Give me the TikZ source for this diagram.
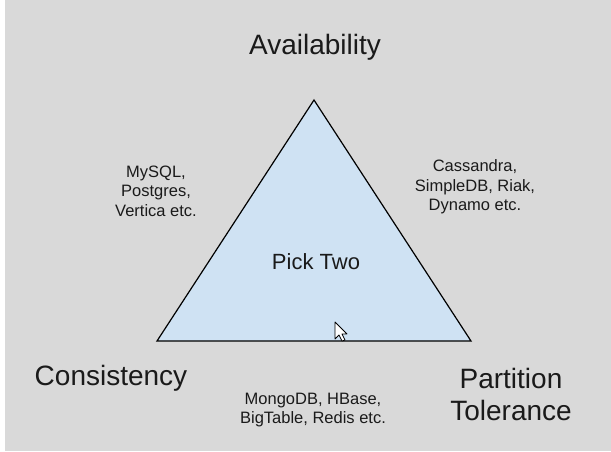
\documentclass[tikz,border=0pt]{standalone}
\usepackage{fontspec}
\setmainfont{Liberation Sans}
\usetikzlibrary{positioning}

\definecolor{bggray}{RGB}{217,217,217}
\definecolor{pickblue}{RGB}{207,226,243}
\definecolor{inkgray}{RGB}{26,26,26}

\tikzset{
  corner/.style={text=inkgray,align=center,font=\fontsize{28}{32}\selectfont},
  dblist/.style={text=inkgray,align=center,font=\fontsize{16.5}{19.5}\selectfont},
  centre/.style={text=inkgray,font=\fontsize{22}{26}\selectfont},
  edge/.style={draw=black,line width=1.2pt,line join=miter}
}

\begin{document}
\begin{tikzpicture}[x=1pt,y=-1pt]
  % page and background
  \useasboundingbox (0,0) rectangle (611,451);
  \fill[white] (0,0) rectangle (611,451);
  \fill[bggray] (5,0) rectangle (611,451);

  % triangle corners
  \coordinate (topv) at (314,100);
  \coordinate (leftv) at (157,341);
  \coordinate (rightv) at (471,341);
  \filldraw[edge,fill=pickblue] (topv) -- (leftv) -- (rightv) -- cycle;

  \node[centre] (pick) at (316,262) {Pick Two};

  % the three properties
  \node[corner] (avail) at (315,47) {Availability};
  \node[corner] (cons) at (111,378) {Consistency};
  \node[corner] (part) at (511,394) {Partition\\Tolerance};

  % databases per pair
  \node[dblist] (ca) at (156,191) {MySQL,\\Postgres,\\Vertica etc.};
  \node[dblist] (ap) at (475,187) {Cassandra,\\SimpleDB, Riak,\\Dynamo etc.};
  \node[dblist] (cp) at (313,410) {MongoDB, HBase,\\BigTable, Redis etc.};

  % mouse pointer
  \filldraw[fill=white,draw=black,line width=0.8pt,line join=round]
    (335,322) -- (335,339) -- (339,335) -- (342,341) -- (345,340)
    -- (342,334) -- (347,334) -- cycle;
\end{tikzpicture}
\end{document}
